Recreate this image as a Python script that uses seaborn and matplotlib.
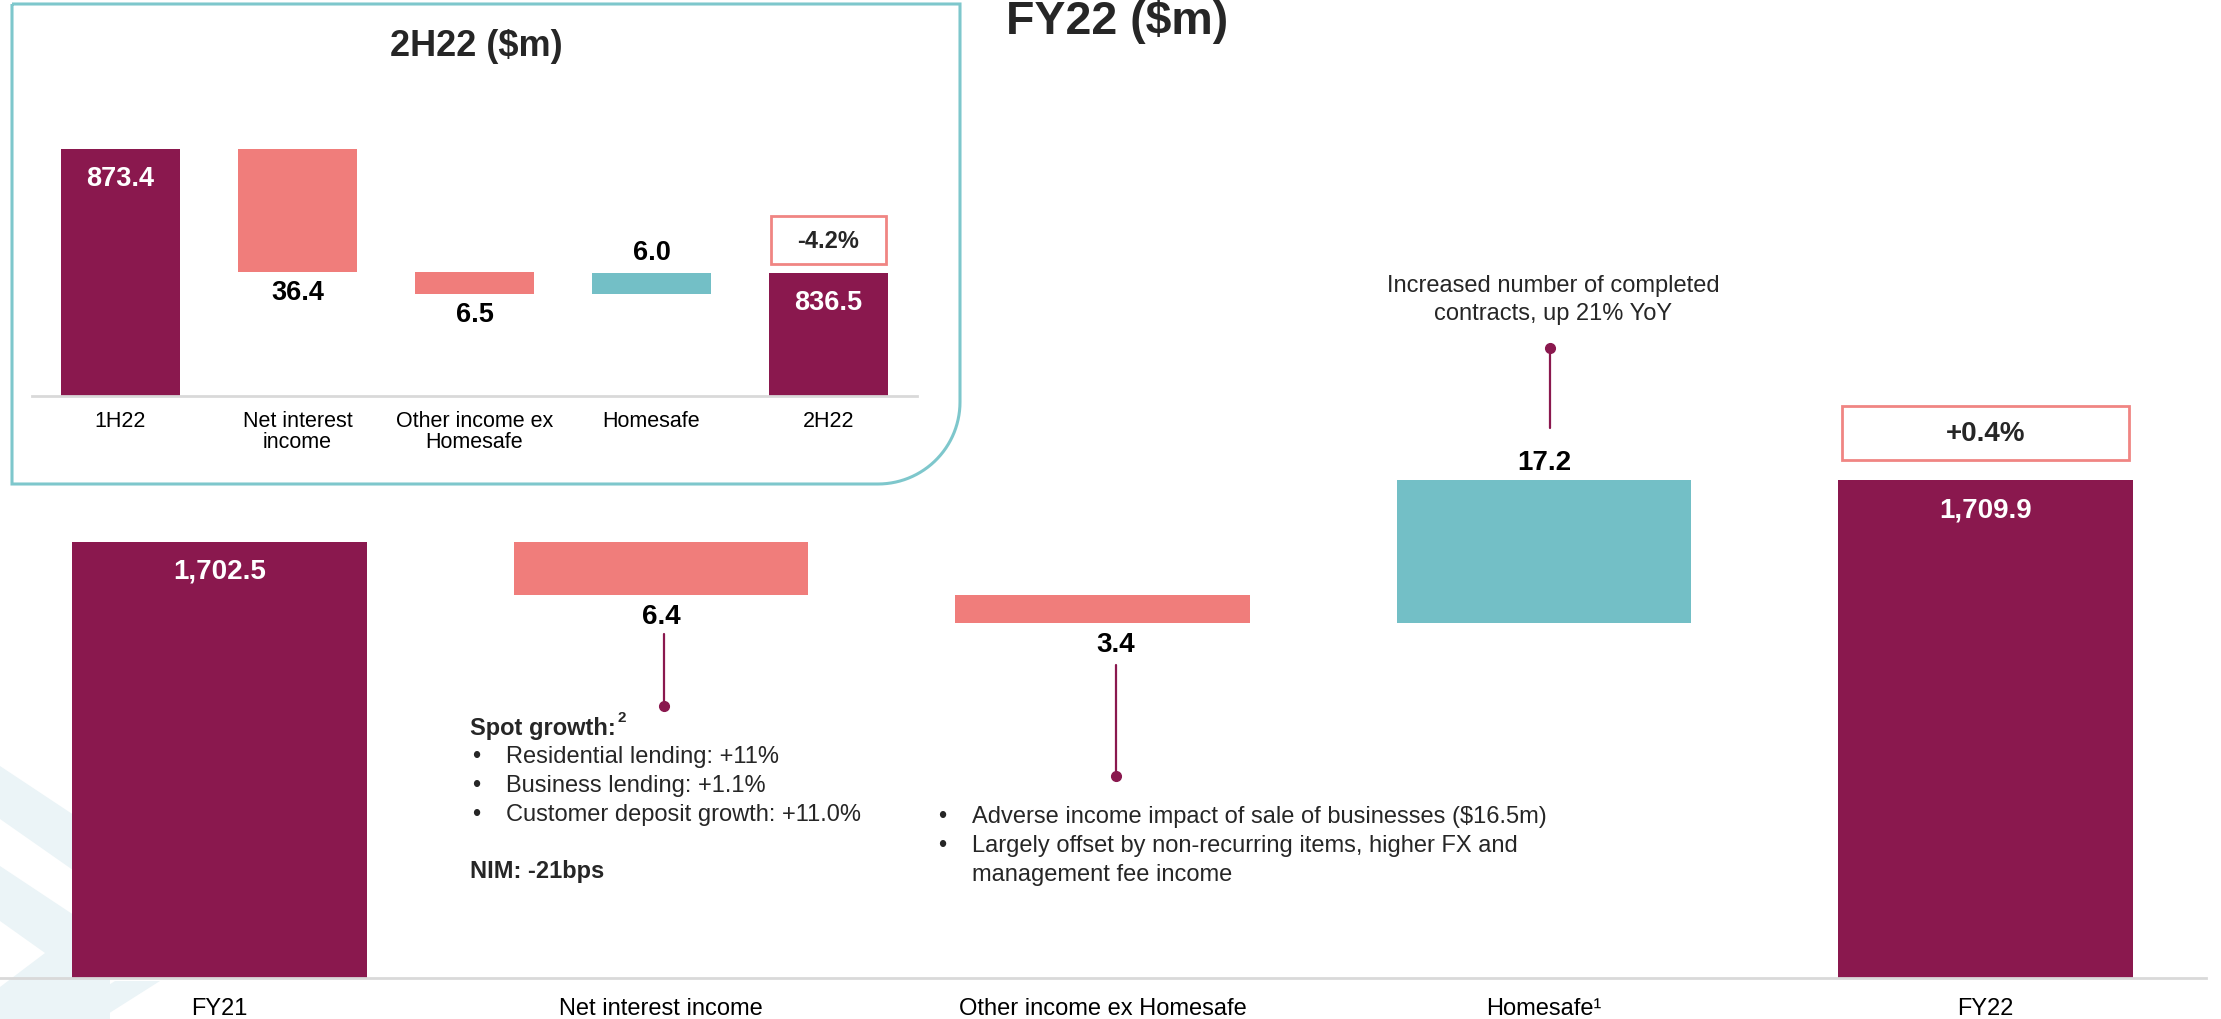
import numpy as np
import pandas as pd
import matplotlib
matplotlib.use("Agg")
import matplotlib.pyplot as plt
from matplotlib.patches import Rectangle, Polygon, PathPatch
from matplotlib.path import Path
import seaborn as sns

sns.set_style("white")
plt.rcParams['font.family'] = ['Liberation Sans', 'DejaVu Sans']

# FY22 waterfall
fy_categories = ["FY21", "Net interest income", "Other income ex Homesafe", "Homesafe\u00b9", "FY22"]
fy_values = [1702.5, -6.4, -3.4, 17.2, 1709.9]
fy_is_total = [True, False, False, False, True]
fy_change = "+0.4%"

# 2H22 waterfall (inset)
h2_categories = ["1H22", "Net interest\nincome", "Other income ex\nHomesafe", "Homesafe", "2H22"]
h2_values = [873.4, -36.4, -6.5, 6.0, 836.5]
h2_is_total = [True, False, False, False, True]
h2_change = "-4.2%"

MAROON = "#8a184e"
PINK = "#f07d7b"
TEAL = "#73bfc6"
GREY = "#d9d9d9"
KIND_COLORS = {"total": MAROON, "down": PINK, "up": TEAL}

W, H = 2221, 1020
fig = plt.figure(figsize=(W / 100, H / 100), dpi=100)


def fx(px):
    return px / W


def fy(py):
    # pixel rows are counted from the top
    return 1 - py / H


def waterfall_frame(cats, values, is_total):
    rows = []
    running = 0.0
    for cat, val, tot in zip(cats, values, is_total):
        if tot:
            bottom, height, kind = 0.0, val, "total"
            running = val
        else:
            start = running
            running = start + val
            bottom, height = min(start, running), abs(val)
            kind = "up" if val > 0 else "down"
        rows.append(dict(cat=cat, bottom=bottom, height=height,
                         top=bottom + height, kind=kind, value=val))
    return pd.DataFrame(rows)


def draw_waterfall(ax, df, width):
    order = list(df["cat"])
    for _, r in df.iterrows():
        sns.barplot(x=[r["cat"]], y=[r["height"]], bottom=r["bottom"], order=order,
                    color=KIND_COLORS[r["kind"]], saturation=1, width=width,
                    errorbar=None, linewidth=0, ax=ax)


def style_axis(ax, labelsize, pad, linespacing=1.2):
    ax.set_facecolor("none")
    for s in ["top", "left", "right"]:
        ax.spines[s].set_visible(False)
    ax.spines["bottom"].set_color(GREY)
    ax.spines["bottom"].set_linewidth(2)
    ax.set_yticks([])
    ax.set_xlabel("")
    ax.set_ylabel("")
    ax.set_xlim(-0.5, 4.5)
    ax.set_xticks(np.arange(-0.5, 5, 1), minor=True)
    ax.tick_params(axis="x", which="major", length=0, pad=pad, labelsize=labelsize, colors="black")
    ax.tick_params(axis="x", which="minor", length=7, width=1.5, color=GREY, direction="out")
    for t in ax.get_xticklabels():
        t.set_linespacing(linespacing)


def add_labels(ax, df, size, ppu, total_dy, down_dy, up_dy, dx=None):
    for i, r in df.iterrows():
        off_x = 0 if dx is None else dx[i]
        txt = f"{abs(r['value']):,.1f}"
        if r["kind"] == "total":
            y, dy, col = r["top"], total_dy, "white"
        elif r["kind"] == "down":
            y, dy, col = r["bottom"], down_dy, "black"
        else:
            y, dy, col = r["top"], up_dy, "black"
        ax.annotate(txt, (i, y), xytext=(off_x, dy), textcoords="offset pixels",
                    ha="center", va="center", color=col, fontsize=size, fontweight="bold")


def add_change_box(ax, df, text, size, ppu, gap, box_h, box_w):
    i = len(df) - 1
    top = df["top"].iloc[-1]
    y0 = top + gap / ppu
    ax.add_patch(Rectangle((i - box_w / 2, y0), box_w, box_h / ppu, fill=False,
                           edgecolor="#f08583", linewidth=2, clip_on=False, zorder=3))
    ax.text(i, y0 + box_h / ppu / 2, text, ha="center", va="center",
            fontsize=size, fontweight="bold", clip_on=False)


# background chevrons (decoration)
for pts in [[(0, 767), (110, 840), (110, 897), (0, 820)],
            [(0, 867), (110, 940), (110, 1020), (0, 1020)],
            [(55, 1020), (115, 982), (160, 982), (100, 1020)]]:
    fig.patches.append(Polygon([(fx(x), fy(y)) for x, y in pts], closed=True,
                               facecolor="#ebf4f7", edgecolor="none",
                               transform=fig.transFigure, zorder=-2))
fig.patches.append(Polygon([(fx(0), fy(922)), (fx(45), fy(954)), (fx(0), fy(988))],
                           closed=True, facecolor="white", edgecolor="none",
                           transform=fig.transFigure, zorder=-1))

# ---------------- main FY22 chart ----------------
fy_df = waterfall_frame(fy_categories, fy_values, fy_is_total)
ax = fig.add_axes([fx(-1), fy(979), 2207 / W, 979 / H])
draw_waterfall(ax, fy_df, 0.667)
style_axis(ax, 17, 14)
main_base = 1649.8
main_ppu = 8.28
ax.set_ylim(main_base, main_base + 979 / main_ppu)

label_dx = [0, 0, 13, 0, 0]
add_labels(ax, fy_df, 20, main_ppu, total_dy=-29, down_dy=-21, up_dy=18, dx=label_dx)
add_change_box(ax, fy_df, fy_change, 20, main_ppu, gap=20, box_h=54, box_w=0.65)

px_x = 5 / 2207  # data units per pixel along x


def stem(ax, x, y_from, y_to, dot_at_end=True):
    ax.plot([x, x], [y_from, y_to], color=MAROON, lw=1.6, clip_on=False, zorder=4)
    yd = y_to if dot_at_end else y_from
    ax.plot([x], [yd], "o", color=MAROON, markersize=7, clip_on=False, zorder=4)


nii = fy_df.iloc[1]
oth = fy_df.iloc[2]
hs = fy_df.iloc[3]
stem(ax, 1 + 3 * px_x, nii["bottom"] - 39 / main_ppu, nii["bottom"] - 111 / main_ppu)
stem(ax, 2 + 13 * px_x, oth["bottom"] - 42 / main_ppu, oth["bottom"] - 153 / main_ppu)
stem(ax, 3 + 6 * px_x, hs["top"] + 52 / main_ppu, hs["top"] + 132 / main_ppu)

fig.text(fx(1006), fy(22), "FY22 ($m)", ha="left", va="center", fontsize=33.5, fontweight="bold")

# net interest income note
fig.text(fx(470), fy(728), "Spot growth:", ha="left", va="center", fontsize=17, fontweight="bold")
fig.text(fx(617), fy(718), "2", ha="left", va="center", fontsize=11, fontweight="bold")
for yy, line in zip([757, 786, 815], ["Residential lending: +11%", "Business lending: +1.1%",
                                       "Customer deposit growth: +11.0%"]):
    fig.text(fx(472), fy(yy), "\u2022", ha="left", va="center", fontsize=17)
    fig.text(fx(506), fy(yy), line, ha="left", va="center", fontsize=17)
fig.text(fx(470), fy(872), "NIM: -21bps", ha="left", va="center", fontsize=17, fontweight="bold")

# other income note
fig.text(fx(938), fy(817), "\u2022", ha="left", va="center", fontsize=17)
fig.text(fx(972), fy(817), "Adverse income impact of sale of businesses ($16.5m)", ha="left", va="center", fontsize=17)
fig.text(fx(938), fy(846), "\u2022", ha="left", va="center", fontsize=17)
fig.text(fx(972), fy(846), "Largely offset by non-recurring items, higher FX and", ha="left", va="center", fontsize=17)
fig.text(fx(972), fy(875), "management fee income", ha="left", va="center", fontsize=17)

# homesafe note
fig.text(fx(1553), fy(286), "Increased number of completed", ha="center", va="center", fontsize=17)
fig.text(fx(1553), fy(314), "contracts, up 21% YoY", ha="center", va="center", fontsize=17)

# ---------------- inset 2H22 chart ----------------
# frame with one rounded corner (bottom right)
left, right, top, bottom, rad = 12, 960, 5, 485, 82
ang = np.linspace(0, -np.pi / 2, 30)
arc = [(right - rad + rad * np.cos(a), bottom - rad - rad * np.sin(a)) for a in ang]
frame_pts = [(left, top), (right, top), (right, bottom - rad)] + arc + [(left, bottom), (left, top)]
frame_path = Path([(fx(x), fy(y)) for x, y in frame_pts])
fig.patches.append(PathPatch(frame_path, facecolor="white", edgecolor="#7ec7cc", lw=2.2,
                             transform=fig.transFigure, zorder=1))

h2_df = waterfall_frame(h2_categories, h2_values, h2_is_total)
iax = fig.add_axes([fx(32), fy(397), 885 / W, 297 / H], zorder=2)
draw_waterfall(iax, h2_df, 0.667)
style_axis(iax, 15.5, 10, linespacing=1.0)
inset_base = 800
inset_ppu = 3.36
iax.set_ylim(inset_base, inset_base + 297 / inset_ppu)
add_labels(iax, h2_df, 19.5, inset_ppu, total_dy=-29, down_dy=-20, up_dy=21)
add_change_box(iax, h2_df, h2_change, 17, inset_ppu, gap=9, box_h=48, box_w=0.65)

fig.text(fx(476), fy(46), "2H22 ($m)", ha="center", va="center", fontsize=26, fontweight="bold", zorder=3)

fig.savefig("out.png", dpi=100)
